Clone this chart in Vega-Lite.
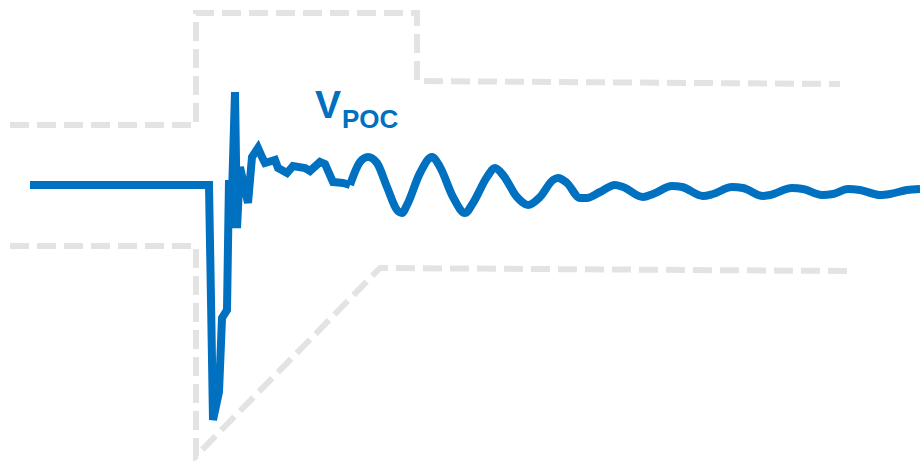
{
  "$schema": "https://vega.github.io/schema/vega-lite/v6.json",
  "width": 920,
  "height": 461,
  "autosize": {"type": "fit", "contains": "padding"},
  "padding": 0,
  "background": "white",
  "config": {"view": {"stroke": null}},
  "datasets": {
    "vpoc_sharp": [
      {"i":0,"t":30,"v":185},{"i":1,"t":209,"v":185},{"i":2,"t":211,"v":300},{"i":3,"t":213,"v":420},
      {"i":4,"t":219,"v":392},{"i":5,"t":222,"v":318},{"i":6,"t":227,"v":310},{"i":7,"t":229,"v":180},
      {"i":8,"t":231,"v":228},{"i":9,"t":235,"v":92},{"i":10,"t":237,"v":228},{"i":11,"t":240,"v":167},
      {"i":12,"t":248,"v":203},{"i":13,"t":252,"v":157},{"i":14,"t":258,"v":148},{"i":15,"t":262,"v":157},
      {"i":16,"t":265,"v":163},{"i":17,"t":275,"v":160},{"i":18,"t":278,"v":168},{"i":19,"t":287,"v":173},
      {"i":20,"t":293,"v":166},{"i":21,"t":305,"v":168},{"i":22,"t":310,"v":171},{"i":23,"t":320,"v":162},
      {"i":24,"t":325,"v":164},{"i":25,"t":333,"v":182},{"i":26,"t":343,"v":183},{"i":27,"t":350,"v":185}
    ],
    "vpoc_smooth": [
      {"i":27,"t":350,"v":185},
      {"i":28,"t":360,"v":162},{"i":29,"t":368,"v":157},{"i":30,"t":377,"v":163},{"i":31,"t":387,"v":187},
      {"i":32,"t":397,"v":210},{"i":33,"t":402,"v":213},{"i":34,"t":407,"v":205},{"i":35,"t":420,"v":173},
      {"i":36,"t":432,"v":157},{"i":37,"t":440,"v":167},{"i":38,"t":453,"v":197},{"i":39,"t":465,"v":213},
      {"i":40,"t":473,"v":203},{"i":41,"t":487,"v":177},{"i":42,"t":495,"v":168},{"i":43,"t":503,"v":175},
      {"i":44,"t":517,"v":197},{"i":45,"t":528,"v":205},{"i":46,"t":540,"v":197},{"i":47,"t":553,"v":180},
      {"i":48,"t":558,"v":178},{"i":49,"t":567,"v":183},{"i":50,"t":580,"v":198},{"i":51,"t":587,"v":198},
      {"i":52,"t":600,"v":192},{"i":53,"t":615,"v":185},{"i":54,"t":623,"v":187},{"i":55,"t":643,"v":197},
      {"i":56,"t":653,"v":194},{"i":57,"t":672,"v":186},{"i":58,"t":682,"v":187},{"i":59,"t":703,"v":196},
      {"i":60,"t":713,"v":194},{"i":61,"t":732,"v":187},{"i":62,"t":743,"v":188},{"i":63,"t":763,"v":196},
      {"i":64,"t":770,"v":195},{"i":65,"t":792,"v":188},{"i":66,"t":803,"v":189},{"i":67,"t":822,"v":195},
      {"i":68,"t":833,"v":194},{"i":69,"t":848,"v":189},{"i":70,"t":860,"v":190},{"i":71,"t":880,"v":195},
      {"i":72,"t":890,"v":194},{"i":73,"t":907,"v":190},{"i":74,"t":920,"v":189}
    ],
    "env": [
      {"g":"upper","i":0,"t":10,"v":125},{"g":"upper","i":1,"t":196,"v":125},{"g":"upper","i":2,"t":196,"v":13},
      {"g":"upper","i":3,"t":417,"v":13},{"g":"upper","i":4,"t":417,"v":81},{"g":"upper","i":5,"t":840,"v":84},
      {"g":"lower","i":0,"t":10,"v":246},{"g":"lower","i":1,"t":196,"v":246},{"g":"lower","i":2,"t":196,"v":456},
      {"g":"lower","i":3,"t":380,"v":268},{"g":"lower","i":4,"t":848,"v":271}
    ],
    "vlabel": [{"t":315,"v":118,"txt":"V"}],
    "sublabel": [{"t":342,"v":128,"txt":"POC"}],
    "title": [{"t":127,"v":-9,"txt":"g"}]
  },
  "encoding": {
    "x": {"field": "t", "type": "quantitative", "scale": {"domain": [0, 920], "nice": false, "zero": false}, "axis": null},
    "y": {"field": "v", "type": "quantitative", "scale": {"domain": [0, 461], "reverse": true, "nice": false, "zero": false}, "axis": null}
  },
  "layer": [
    {
      "data": {"name": "env"},
      "mark": {"type": "line", "stroke": "#e3e3e3", "strokeWidth": 6, "strokeDash": [19, 8], "strokeCap": "butt", "strokeJoin": "miter", "clip": true},
      "encoding": {
        "detail": {"field": "g"},
        "order": {"field": "i", "type": "quantitative"}
      }
    },
    {
      "data": {"name": "vpoc_sharp"},
      "mark": {"type": "line", "stroke": "#0070c0", "strokeWidth": 8, "strokeJoin": "miter", "strokeMiterLimit": 3, "clip": true},
      "encoding": {
        "order": {"field": "i", "type": "quantitative"}
      }
    },
    {
      "data": {"name": "vpoc_smooth"},
      "mark": {"type": "line", "stroke": "#0070c0", "strokeWidth": 8, "strokeJoin": "round", "interpolate": "monotone", "clip": true},
      "encoding": {
        "order": {"field": "i", "type": "quantitative"}
      }
    },
    {
      "data": {"name": "vlabel"},
      "mark": {"type": "text", "align": "left", "baseline": "alphabetic", "font": "Liberation Sans", "fontWeight": "bold", "fontSize": 39, "color": "#0070c0"},
      "encoding": {"text": {"field": "txt"}}
    },
    {
      "data": {"name": "sublabel"},
      "mark": {"type": "text", "align": "left", "baseline": "alphabetic", "font": "Liberation Sans", "fontWeight": "bold", "fontSize": 26, "color": "#0070c0"},
      "encoding": {"text": {"field": "txt"}}
    },
    {
      "data": {"name": "title"},
      "mark": {"type": "text", "align": "left", "baseline": "alphabetic", "font": "Liberation Sans", "fontWeight": "bold", "fontSize": 40, "color": "black", "clip": true},
      "encoding": {"text": {"field": "txt"}}
    }
  ]
}
